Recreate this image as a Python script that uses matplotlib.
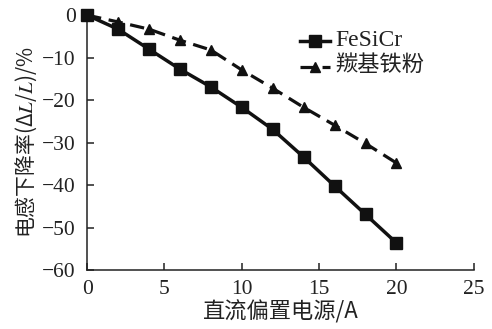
import matplotlib
matplotlib.use("Agg")
import matplotlib.pyplot as plt
from matplotlib.font_manager import FontProperties

plt.rcParams['mathtext.fontset'] = 'stix'
plt.rcParams['axes.unicode_minus'] = True

current = [0, 2, 4, 6, 8, 10, 12, 14, 16, 18, 20]
fesicr = [0, -3.3, -8.0, -12.7, -16.9, -21.7, -26.9, -33.4, -40.2, -46.9, -53.6]
carbonyl = [0, -1.6, -3.3, -5.9, -8.2, -12.9, -17.2, -21.7, -25.9, -30.2, -34.8]
series_names = ["FeSiCr", "羰基铁粉"]
xticks = [0, 5, 10, 15, 20, 25]
yticks = [0, -10, -20, -30, -40, -50, -60]

serif = FontProperties(family="Liberation Serif", size=15.5)
serif_leg = FontProperties(family="Liberation Serif", size=17)
cjk = FontProperties(family="Noto Sans CJK SC", size=16)
cjk_y = FontProperties(family="Noto Sans CJK SC", size=15)
cjk_leg = FontProperties(family="Noto Sans CJK SC", size=16)

fig = plt.figure(figsize=(4.92, 3.29), dpi=100)
ax = fig.add_axes([0.177, 0.179, 0.786, 0.775])

ax.plot(current, fesicr, color="#111111", lw=2.5, marker="s", ms=8,
        label=series_names[0], clip_on=False, zorder=3)
ax.plot(current, carbonyl, color="#111111", lw=2.3, ls=(0, (4.5, 2.4)),
        marker="^", ms=7.5, label=series_names[1], clip_on=False, zorder=3)

ax.set_xlim(0, 25)
ax.set_ylim(-60, 0)
ax.set_xticks(xticks)
ax.set_yticks(yticks)
ax.set_xticklabels([str(v) for v in xticks], fontproperties=serif)
ax.set_yticklabels([str(v).replace('-', '\u2212') for v in yticks], fontproperties=serif)
ax.tick_params(direction="in", length=5, width=1.1, colors="#222222")
ax.tick_params(axis="x", pad=7)
ax.tick_params(axis="y", pad=8)

for side in ("top", "right"):
    ax.spines[side].set_visible(False)
for side in ("left", "bottom"):
    ax.spines[side].set_linewidth(1.1)
    ax.spines[side].set_color("#222222")

ax.set_xlabel("直流偏置电源/A", fontproperties=cjk, labelpad=1, color="#222222")
ax.set_ylabel("电感下降率(Δ$L$/$L$)/%", fontproperties=cjk_y, labelpad=2, color="#222222")

leg = ax.legend(loc="upper left", bbox_to_anchor=(0.535, 0.965), frameon=False,
                handlelength=2.2, handletextpad=0.4, labelspacing=0.2,
                borderaxespad=0)
texts = leg.get_texts()
texts[0].set_fontproperties(serif_leg)
texts[1].set_fontproperties(cjk_leg)
for t in texts:
    t.set_color("#222222")

fig.savefig("out.png", dpi=100)
